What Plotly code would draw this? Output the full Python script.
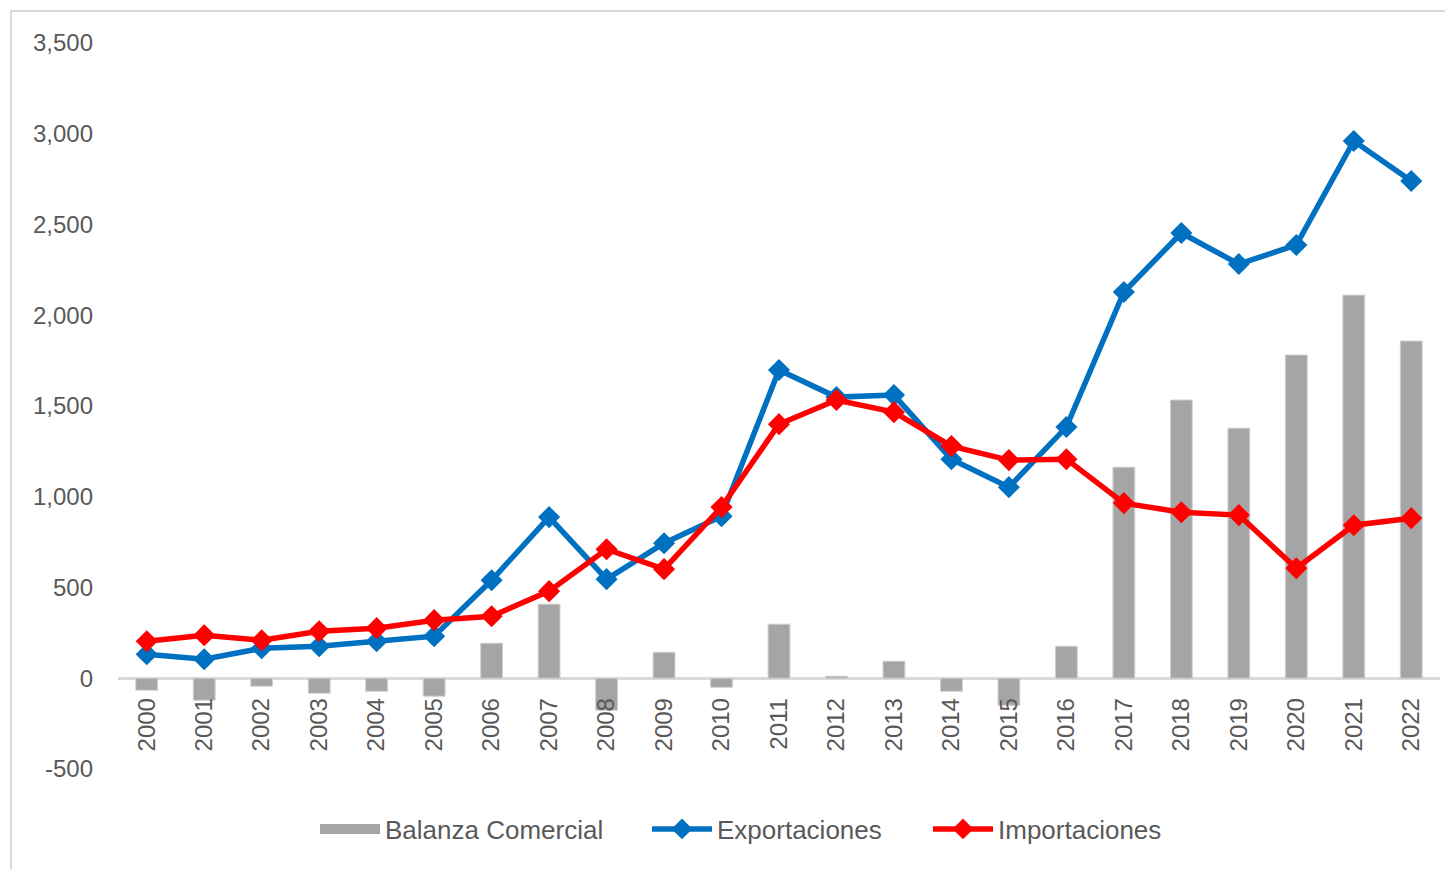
import plotly.graph_objects as go

years = [str(y) for y in range(2000, 2023)]
exportaciones = [132, 105, 165, 176, 204, 232, 540, 888, 546, 744, 893, 1698, 1549, 1560,
                 1207, 1053, 1384, 2128, 2453, 2282, 2387, 2960, 2740]
importaciones = [204, 237, 209, 259, 276, 320, 342, 480, 711, 601, 943, 1400, 1533, 1466,
                 1279, 1202, 1207, 965, 915, 899, 606, 843, 882]
balanza = [-66, -121, -44, -83, -72, -99, 193, 408, -176, 143, -50, 298, 11, 94,
           -72, -149, 176, 1163, 1533, 1378, 1781, 2111, 1858]
y_ticks = [-500, 0, 500, 1000, 1500, 2000, 2500, 3000, 3500]
y_labels = ["-500", "0", "500", "1,000", "1,500", "2,000", "2,500", "3,000", "3,500"]

FONT = "Liberation Sans"
TXT = "#595959"
GRAY = "#A5A5A5"

fig = go.Figure()
fig.add_trace(go.Bar(x=years, y=balanza, name="Balanza Comercial", legendgroup="bal",
                     showlegend=False,
                     marker=dict(color=GRAY, line=dict(color="#D0D0D0", width=1)),
                     width=0.38))
# legend stand-in for the bar series (wide rectangle swatch like the original)
fig.add_trace(go.Scatter(x=[None], y=[None], name="Balanza Comercial", legendgroup="bal",
                         mode="lines", line=dict(color=GRAY, width=16), legend="legend"))
fig.add_trace(go.Scatter(x=years, y=exportaciones, name="Exportaciones", mode="lines+markers",
                         line=dict(color="#0070C0", width=5.5), legend="legend2",
                         marker=dict(symbol="diamond", size=17, color="#0070C0")))
fig.add_trace(go.Scatter(x=years, y=importaciones, name="Importaciones", mode="lines+markers",
                         line=dict(color="#FF0000", width=5.5), legend="legend3",
                         marker=dict(symbol="diamond", size=17, color="#FF0000")))

W, H = 1445, 861
L, R, T, B = 110, 13, 35, 100
pw, ph = W - L - R, H - T - B

def px_x(p):
    return (p - L) / pw

def px_y(p):
    return (H - B - p) / ph

# chart-area border (top and left visible)
fig.add_shape(type="rect", xref="paper", yref="paper",
              x0=px_x(3), x1=px_x(1470), y0=px_y(890), y1=px_y(3),
              line=dict(color="#D9D9D9", width=2), fillcolor="rgba(0,0,0,0)", layer="below")

def leg(xpix):
    return dict(orientation="h", x=px_x(xpix), xanchor="left", y=px_y(821), yanchor="middle",
                font=dict(family=FONT, size=26, color=TXT),
                itemwidth=60, bgcolor="rgba(0,0,0,0)")

fig.update_layout(
    width=W, height=H,
    margin=dict(l=L, r=R, t=T, b=B, autoexpand=False),
    paper_bgcolor="white", plot_bgcolor="white",
    font=dict(family=FONT, color=TXT, size=24),
    showlegend=True,
    legend=leg(307),
    legend2=leg(639),
    legend3=leg(920),
    xaxis=dict(type="category", anchor="free", position=500 / 4000,
               tickangle=-90, showline=False, showgrid=False, zeroline=False,
               ticks="", ticklabelstandoff=14,
               tickfont=dict(family=FONT, size=24, color=TXT),
               range=[-0.5, 22.5]),
    yaxis=dict(range=[-500, 3500], tickvals=y_ticks, ticktext=y_labels,
               showgrid=False, showline=False, zeroline=True,
               zerolinecolor="#D9D9D9", zerolinewidth=2.5,
               ticks="", ticklabelstandoff=24,
               tickfont=dict(family=FONT, size=24, color=TXT)),
)

fig.write_html("out.html")
